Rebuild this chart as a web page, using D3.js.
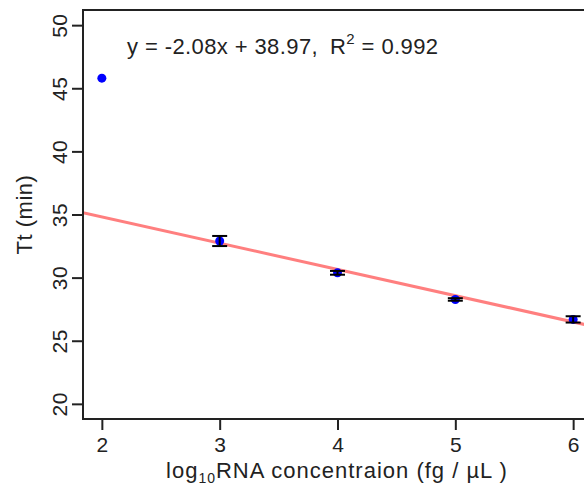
<!DOCTYPE html>
<html>
<head>
<meta charset="utf-8">
<script src="https://cdn.jsdelivr.net/npm/d3@7"></script>
<style>
  body { margin: 0; background: #fff; }
  svg { display: block; font-family: "Liberation Sans", Arial, sans-serif; }
</style>
</head>
<body>
<div id="chart"></div>
<script>
// data
const concentration = [2, 3, 4, 5, 6];
const ttMean = [45.8, 32.9, 30.38, 28.27, 26.69];
const ttSd = [0, 0.4, 0.15, 0.1, 0.25];
const xTicks = [2, 3, 4, 5, 6];
const yTicks = [20, 25, 30, 35, 40, 45, 50];
const slope = -2.08;
const intercept = 38.97;
const rSquared = 0.992;

const width = 584;
const height = 486;
const box = { left: 83, top: 10, right: 592, bottom: 419 };

const x = d3.scaleLinear().domain([1.84, 6.16]).range([box.left, box.right]);
const y = d3.scaleLinear().domain([18.8, 51.2]).range([box.bottom, box.top]);

const svg = d3.select('#chart').append('svg')
  .attr('width', width)
  .attr('height', height)
  .attr('viewBox', [0, 0, width, height]);

const ink = '#222';

// x axis
const xAxis = svg.append('g')
  .attr('transform', `translate(0,${box.bottom})`)
  .call(d3.axisBottom(x).tickValues(xTicks).tickSize(11).tickSizeOuter(0).tickFormat(d3.format('d')));
xAxis.select('.domain').remove();
xAxis.selectAll('line').attr('stroke', ink).attr('stroke-width', 2);
xAxis.selectAll('text').attr('font-size', 21).attr('fill', ink).attr('dy', '0.9em');

// y axis, labels turned like base R
const yAxis = svg.append('g')
  .attr('transform', `translate(${box.left},0)`)
  .call(d3.axisLeft(y).tickValues(yTicks).tickSize(11).tickSizeOuter(0).tickFormat(d3.format('d')));
yAxis.select('.domain').remove();
yAxis.selectAll('line').attr('stroke', ink).attr('stroke-width', 2);
yAxis.selectAll('text')
  .attr('font-size', 21)
  .attr('fill', ink)
  .attr('text-anchor', 'middle')
  .attr('letter-spacing', 0.5)
  .attr('x', 0).attr('dy', 0)
  .attr('transform', 'translate(-16,0) rotate(-90)');

// clip for marks inside the box
svg.append('clipPath').attr('id', 'plot-clip')
  .append('rect')
  .attr('x', box.left).attr('y', box.top)
  .attr('width', box.right - box.left).attr('height', box.bottom - box.top);

const plot = svg.append('g').attr('clip-path', 'url(#plot-clip)');

// fitted line
const xs = x.domain();
plot.append('line')
  .attr('x1', x(xs[0])).attr('y1', y(slope * xs[0] + intercept))
  .attr('x2', x(xs[1])).attr('y2', y(slope * xs[1] + intercept))
  .attr('stroke', '#ff7f7f')
  .attr('stroke-width', 3);

const data = concentration.map((c, i) => ({ c, m: ttMean[i], sd: ttSd[i] }));

// points
plot.append('g')
  .selectAll('circle')
  .data(data)
  .join('circle')
    .attr('cx', d => x(d.c))
    .attr('cy', d => y(d.m))
    .attr('r', 4.5)
    .attr('fill', '#0000ff');

// error bars
const bars = plot.append('g')
  .attr('stroke', '#000')
  .attr('stroke-width', 2)
  .selectAll('g')
  .data(data.filter(d => d.sd > 0))
  .join('g');

bars.append('line')
  .attr('x1', d => x(d.c)).attr('x2', d => x(d.c))
  .attr('y1', d => y(d.m - d.sd)).attr('y2', d => y(d.m + d.sd));
bars.append('line')
  .attr('x1', d => x(d.c) - 7.5).attr('x2', d => x(d.c) + 7.5)
  .attr('y1', d => y(d.m + d.sd)).attr('y2', d => y(d.m + d.sd));
bars.append('line')
  .attr('x1', d => x(d.c) - 7.5).attr('x2', d => x(d.c) + 7.5)
  .attr('y1', d => y(d.m - d.sd)).attr('y2', d => y(d.m - d.sd));

// frame
svg.append('rect')
  .attr('x', box.left).attr('y', box.top)
  .attr('width', box.right - box.left).attr('height', box.bottom - box.top)
  .attr('fill', 'none')
  .attr('stroke', ink)
  .attr('stroke-width', 2);

// equation
const eq = svg.append('text')
  .attr('x', 127).attr('y', 54)
  .attr('font-size', 22)
  .attr('letter-spacing', 0.4)
  .attr('fill', ink);
eq.append('tspan').text(`y = ${slope}x + ${intercept},`);
eq.append('tspan').attr('dx', 12).text('R');
eq.append('tspan').attr('font-size', 15).attr('dy', -10).text('2');
eq.append('tspan').attr('dy', 10).text(` = ${rSquared}`);

// axis titles
const xt = svg.append('text')
  .attr('x', 337).attr('y', 478)
  .attr('text-anchor', 'middle')
  .attr('font-size', 22)
  .attr('letter-spacing', 1)
  .attr('fill', ink);
xt.append('tspan').text('log');
xt.append('tspan').attr('font-size', 14).attr('dy', 5).text('10');
xt.append('tspan').attr('dy', -5).text('RNA concentraion (fg / µL )');

svg.append('text')
  .attr('transform', `translate(32,${(box.top + box.bottom) / 2}) rotate(-90)`)
  .attr('text-anchor', 'middle')
  .attr('font-size', 22)
  .attr('letter-spacing', 0.5)
  .attr('fill', ink)
  .text('Tt (min)');
</script>
</body>
</html>
